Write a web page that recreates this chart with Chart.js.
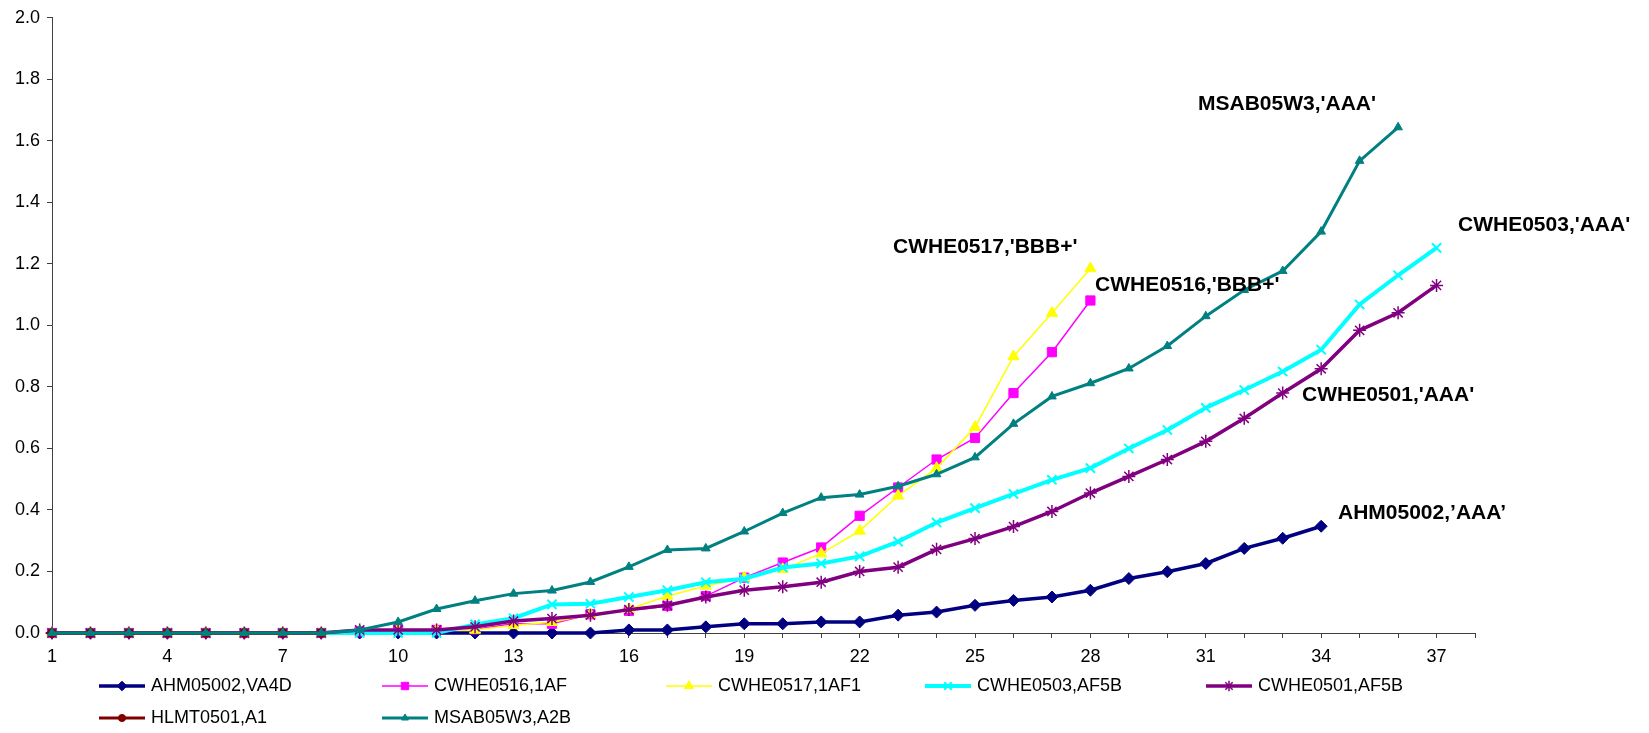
<!DOCTYPE html>
<html>
<head>
<meta charset="utf-8">
<script src="https://cdn.jsdelivr.net/npm/chart.js@4.4.1/dist/chart.umd.min.js"></script>
<style>
  html, body { margin: 0; padding: 0; background: #fff; }
  canvas { display: block; }
</style>
</head>
<body>
<canvas id="rates" width="1649" height="733"></canvas>
<script>
// -------- data -------- //
var periods = ['1', '2', '3', '4', '5', '6', '7', '8', '9', '10', '11', '12', '13',
    '14', '15', '16', '17', '18', '19', '20', '21', '22', '23', '24', '25', '26',
    '27', '28', '29', '30', '31', '32', '33', '34', '35', '36', '37', '38'];
var shownPeriods = ['1', '4', '7', '10', '13', '16', '19', '22', '25', '28', '31', '34', '37'];

var ahm05002 = [0, 0, 0, 0, 0, 0, 0, 0, 0, 0, 0, 0, 0, 0, 0,
    0.01, 0.01, 0.02, 0.03, 0.03, 0.036, 0.036, 0.058, 0.068, 0.09, 0.106, 0.117,
    0.139, 0.177, 0.199, 0.226, 0.275, 0.308, 0.347];
var cwhe0516 = [0, 0, 0, 0, 0, 0, 0, 0, 0.005, 0.01, 0.01, 0.012, 0.03, 0.03,
    0.061, 0.072, 0.088, 0.12, 0.18, 0.229, 0.278, 0.381, 0.473, 0.564, 0.634,
    0.78, 0.913, 1.081];
var cwhe0517 = [0, 0, 0, 0, 0, 0, 0, 0, 0.005, 0.01, 0.01, 0.01, 0.025, 0.035,
    0.06, 0.077, 0.12, 0.153, 0.18, 0.207, 0.258, 0.332, 0.446, 0.536, 0.669,
    0.899, 1.04, 1.185];
var cwhe0503 = [0, 0, 0, 0, 0, 0, 0, 0, 0, 0, 0, 0.028, 0.048, 0.093, 0.095,
    0.117, 0.139, 0.165, 0.176, 0.213, 0.226, 0.249, 0.297, 0.359, 0.406, 0.452,
    0.498, 0.536, 0.6, 0.66, 0.732, 0.79, 0.85, 0.921, 1.068, 1.163, 1.252];
var cwhe0501 = [0, 0, 0, 0, 0, 0, 0, 0, 0.01, 0.01, 0.01, 0.02, 0.039, 0.047,
    0.058, 0.076, 0.09, 0.117, 0.139, 0.15, 0.165, 0.2, 0.214, 0.272, 0.307, 0.346,
    0.395, 0.455, 0.509, 0.564, 0.623, 0.698, 0.78, 0.859, 0.984, 1.041, 1.13];
var hlmt0501 = [0, 0, 0, 0, 0, 0, 0, 0];
var msab05w3 = [0, 0, 0, 0, 0, 0, 0, 0, 0.01, 0.036, 0.078, 0.105, 0.128, 0.138,
    0.166, 0.215, 0.27, 0.275, 0.33, 0.39, 0.44, 0.45, 0.477, 0.516, 0.571, 0.68,
    0.769, 0.812, 0.86, 0.933, 1.03, 1.115, 1.177, 1.305, 1.535, 1.644];

var seriesNames = ['AHM05002,VA4D', 'CWHE0516,1AF', 'CWHE0517,1AF1', 'CWHE0503,AF5B',
    'CWHE0501,AF5B', 'HLMT0501,A1', 'MSAB05W3,A2B'];
var seriesValues = [ahm05002, cwhe0516, cwhe0517, cwhe0503, cwhe0501, hlmt0501, msab05w3];

var notes = ["MSAB05W3,'AAA'", "CWHE0517,'BBB+'", "CWHE0516,'BBB+'", "CWHE0503,'AAA'",
    "CWHE0501,'AAA'", "AHM05002,\u2019AAA\u2019"];

// -------- look -------- //
var looks = [
    { color: '#000080', width: 3.5, point: 'rectRot', r: 6, bw: 1 },
    { color: '#FF00FF', width: 1.5, point: 'rect', r: 6.5, bw: 1 },
    { color: '#FFFF00', width: 1.5, point: 'triangle', r: 6.5, bw: 1 },
    { color: '#00FFFF', width: 4, point: 'crossRot', r: 6.5, bw: 2 },
    { color: '#800080', width: 3.5, point: 'star', r: 6.5, bw: 1.5 },
    { color: '#800000', width: 3, point: 'circle', r: 4.5, bw: 1 },
    { color: '#008080', width: 3, point: 'triangle', r: 5, bw: 1 }
];

var noteSpots = [[1198, 104], [893, 247], [1095, 285], [1458, 225], [1302, 395], [1338, 513]];
var legendSpots = [[99, 686], [382, 686], [666, 686], [925, 686], [1206, 686], [99, 718], [382, 718]];

var font = '"Liberation Sans", Arial, sans-serif';
var axisGrey = '#404040';

var datasets = seriesValues.map(function (vals, i) {
    var lk = looks[i];
    return {
        label: seriesNames[i],
        data: vals,
        borderColor: lk.color,
        backgroundColor: lk.color,
        borderWidth: lk.width,
        pointStyle: lk.point,
        pointRadius: lk.r,
        pointBackgroundColor: lk.color,
        pointBorderColor: lk.color,
        pointBorderWidth: lk.bw,
        tension: 0,
        clip: false,
        order: 10 - i
    };
});

// Excel style legend in fixed columns
var legendPlugin = {
    id: 'columnLegend',
    afterDraw: function (chart) {
        var ctx = chart.ctx;
        chart.data.datasets.forEach(function (ds, i) {
            var x = legendSpots[i][0], y = legendSpots[i][1];
            ctx.save();
            ctx.strokeStyle = ds.borderColor;
            ctx.lineWidth = ds.borderWidth;
            ctx.beginPath();
            ctx.moveTo(x, y);
            ctx.lineTo(x + 46, y);
            ctx.stroke();
            ctx.fillStyle = ds.pointBackgroundColor;
            ctx.strokeStyle = ds.pointBorderColor;
            ctx.lineWidth = ds.pointBorderWidth;
            Chart.helpers.drawPoint(ctx, {
                pointStyle: ds.pointStyle,
                radius: ds.pointRadius * 0.8,
                rotation: 0,
                borderWidth: ds.pointBorderWidth
            }, x + 23, y);
            ctx.fillStyle = '#000';
            ctx.font = '18px ' + font;
            ctx.textBaseline = 'middle';
            ctx.textAlign = 'left';
            ctx.fillText(ds.label, x + 52, y);
            ctx.restore();
        });
    }
};

// bold series notes
var notePlugin = {
    id: 'seriesNotes',
    afterDraw: function (chart) {
        var ctx = chart.ctx;
        ctx.save();
        ctx.fillStyle = '#000';
        ctx.font = 'bold 21px ' + font;
        ctx.textBaseline = 'middle';
        ctx.textAlign = 'left';
        notes.forEach(function (t, i) {
            ctx.fillText(t, noteSpots[i][0], noteSpots[i][1]);
        });
        ctx.restore();
    }
};

var ctx1 = document.getElementById('rates').getContext('2d');

new Chart(ctx1, {
    type: 'line',
    data: {
        labels: periods,
        datasets: datasets
    },
    plugins: [legendPlugin, notePlugin],
    options: {
        responsive: false,
        animation: false,
        layout: {
            padding: { top: 15, right: 174, bottom: 0, left: 0 }
        },
        plugins: {
            legend: { display: false },
            tooltip: { enabled: false }
        },
        scales: {
            x: {
                type: 'category',
                offset: false,
                afterFit: function (s) { s.height = 100; },
                border: { display: true, color: axisGrey, width: 1 },
                grid: { display: true, drawOnChartArea: false, drawTicks: true, tickLength: 5, color: axisGrey },
                ticks: {
                    autoSkip: false,
                    maxRotation: 0,
                    padding: 8,
                    color: '#000',
                    font: { family: font, size: 18 },
                    callback: function (v, idx) {
                        var lab = periods[idx];
                        return shownPeriods.indexOf(lab) >= 0 ? lab : '';
                    }
                }
            },
            y: {
                min: 0,
                max: 2,
                afterFit: function (s) { s.width = 52; },
                border: { display: true, color: axisGrey, width: 1 },
                grid: { display: true, drawOnChartArea: false, drawTicks: true, tickLength: 5, color: axisGrey },
                ticks: {
                    stepSize: 0.2,
                    padding: 7,
                    color: '#000',
                    font: { family: font, size: 18 },
                    callback: function (v) { return Number(v).toFixed(1); }
                }
            }
        }
    }
});
</script>
</body>
</html>
